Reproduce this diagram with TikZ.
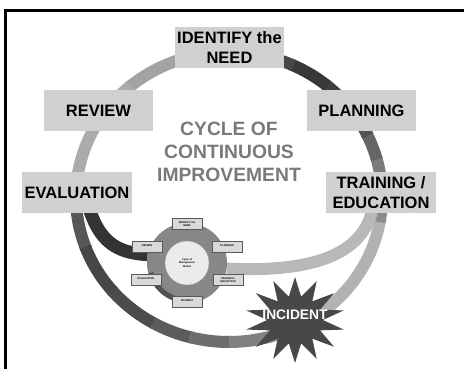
\documentclass[tikz,border=0pt]{standalone}
\usepackage{fontspec}
\setmainfont{Liberation Sans}
\usepackage{xcolor}
\definecolor{boxgray}{RGB}{208,208,208}
\definecolor{titlegray}{RGB}{122,122,122}
\definecolor{burstgray}{RGB}{72,72,72}
\usetikzlibrary{shapes.geometric, calc, backgrounds}

\begin{document}
\begin{tikzpicture}[
  x=1pt, y=1pt,
  stagebox/.style={rectangle, fill=boxgray, minimum width=109pt, minimum height=41pt,
               inner sep=0pt, align=center, font=\fontsize{16.5}{20}\selectfont\bfseries},
  band/.style={line width=12pt},
  minibox/.style={rectangle, fill=black!15, draw=black!65, line width=0.6pt,
               minimum width=30pt, minimum height=11pt, inner sep=0pt, align=center,
               font=\fontsize{2.6}{3}\selectfont\bfseries},
  burst/.style={star, star points=14, star point ratio=1.8, minimum size=100pt,
               inner sep=0pt, fill=burstgray, yscale=0.86}
]
\useasboundingbox (0,0) rectangle (464,369);
\draw[line width=3pt] (5.5,0) -- (5.5,358.5) -- (464,358.5);

\node[stagebox] (need)   at (229.5,321.5) {IDENTIFY the\\NEED};
\node[stagebox] (review) at (98.5,258)    {REVIEW};
\node[stagebox] (plan)   at (361.5,258)   {PLANNING};
\node[stagebox, minimum width=110pt] (eval)  at (77,176.5)  {EVALUATION};
\node[stagebox, minimum width=110pt] (train) at (381,176.5) {TRAINING /\\EDUCATION};

\node[font=\fontsize{19.3}{23}\selectfont\bfseries, text=titlegray, align=center] (title)
  at (229,217) {CYCLE OF\\CONTINUOUS\\IMPROVEMENT};

% management model
\node[circle, minimum size=80pt, inner sep=0pt] (model) at (187,106) {};
\node[circle, minimum size=44pt, inner sep=0pt, fill=black!8, draw=black!35,
      align=center, font=\fontsize{2.6}{3.2}\selectfont\bfseries] (core) at (model) {Cycle of\\Management\\Model};
\node[minibox] (m1) at ($(model)+(0,39)$)    {IDENTIFY the\\NEED};
\node[minibox] (m2) at ($(model)+(40,16)$)   {PLANNING\\ };
\node[minibox] (m3) at ($(model)+(41,-17)$)  {TRAINING /\\EDUCATION};
\node[minibox] (m4) at ($(model)+(0,-39)$)   {INCIDENT\\ };
\node[minibox] (m5) at ($(model)+(-41,-17)$) {EVALUATION\\ };
\node[minibox] (m6) at ($(model)+(-40,16)$)  {REVIEW\\ };

\begin{scope}[on background layer]
\coordinate (hub) at (229,172);
% the ring, shaded piece by piece
\foreach \p/\q/\g in {-190/-174/62, -175/-159/66, -160/-139/72, -140/-119/70,
                      -120/-104/64, -105/-89/57, -90/-74/50, -75/-59/42,
                      -60/-9/30, -10/6/45, 5/16/52, 15/26/60, 25/36/68,
                      35/51/75, 50/66/78, 65/81/72, 80/96/60, 95/131/36, 130/171/33}
  \draw[band, black!\g] ($(hub)+(\p:153pt and 145pt)$)
    arc[start angle=\p, end angle=\q, x radius=153pt, y radius=145pt];
\draw[band, black!28] ($(train.south)+(-9,2)$) .. controls (362,118) and (320,96) .. (model.-8);
\draw[band, line width=13pt, black!80] ($(eval.south)+(13,2)$) .. controls (100,130) and (114,116) .. (model.168);
\fill[black!47] (model) circle[radius=40pt];
\draw[black!68, line width=5pt] ($(model)+(195:37.5pt)$) arc[start angle=195, end angle=265, radius=37.5pt];
\end{scope}

\node[burst] (incident) at (295,49) {};
\node[font=\fontsize{13.8}{16}\selectfont\bfseries, text=white] (incidentlbl) at (295,54) {INCIDENT};
\end{tikzpicture}
\end{document}
